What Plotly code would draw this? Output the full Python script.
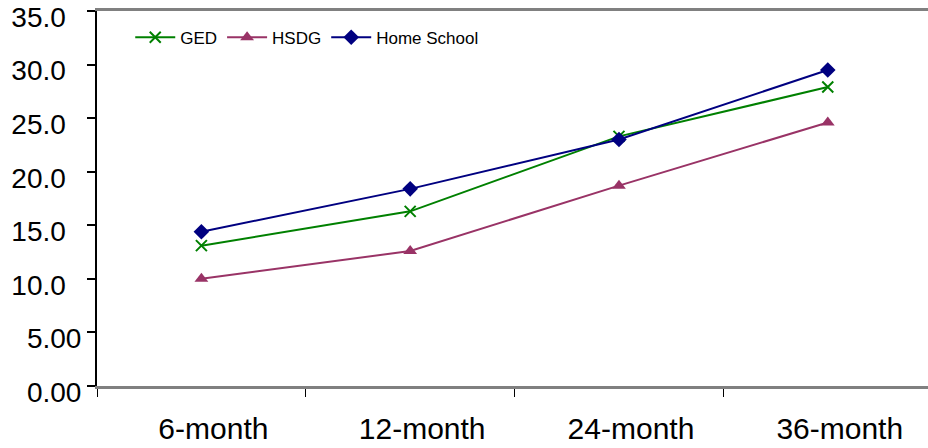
import plotly.graph_objects as go

categories = ["6-month", "12-month", "24-month", "36-month"]
ged = [13.1, 16.3, 23.3, 27.9]
hsdg = [10.0, 12.6, 18.7, 24.6]
home_school = [14.4, 18.4, 23.0, 29.5]

y_tickvals = [0, 5, 10, 15, 20, 25, 30, 35]
y_ticktext = ["0.00", "5.00", "10.0\u00a0\u00a0", "15.0\u00a0\u00a0", "20.0\u00a0\u00a0",
              "25.0\u00a0\u00a0", "30.0\u00a0\u00a0", "35.0\u00a0\u00a0"]

FONT = "Liberation Sans, Arial, sans-serif"

fig = go.Figure()
fig.add_trace(go.Scatter(
    x=categories, y=ged, name="GED", mode="lines+markers",
    line=dict(color="#008000", width=2),
    marker=dict(symbol="x-thin", size=11, line=dict(color="#008000", width=2), color="#008000"),
))
fig.add_trace(go.Scatter(
    x=categories, y=hsdg, name="HSDG", mode="lines+markers",
    line=dict(color="#993366", width=2),
    marker=dict(symbol="triangle-up", size=12, color="#993366"),
))
fig.add_trace(go.Scatter(
    x=categories, y=home_school, name="Home School", mode="lines+markers",
    line=dict(color="#000080", width=2),
    marker=dict(symbol="diamond", size=12, color="#000080"),
))

fig.update_layout(
    width=928, height=448,
    margin=dict(l=97, r=0, t=11, b=62),
    paper_bgcolor="white", plot_bgcolor="white",
    font=dict(family=FONT, color="black"),
    showlegend=True,
    legend=dict(
        orientation="h", x=0.04, y=0.977, xanchor="left", yanchor="top",
        font=dict(size=17, family=FONT, color="black"),
        bgcolor="rgba(0,0,0,0)", itemwidth=40, tracegroupgap=0,
    ),
)

fig.update_xaxes(
    type="category", range=[-0.5, 3.48], automargin=False,
    tickson="boundaries", ticks="outside", ticklen=8, tickwidth=1, tickcolor="black",
    showline=True, linecolor="#808080", linewidth=3, mirror=True,
    showgrid=False, zeroline=False,
    tickfont=dict(size=30, family=FONT, color="black"),
    ticklabelstandoff=14, ticklabelshift=12, ticklabeloverflow="allow",
)
fig.update_yaxes(
    range=[0, 35], tickvals=y_tickvals, ticktext=y_ticktext, automargin=False,
    ticks="outside", ticklen=8, tickwidth=2, tickcolor="black",
    showline=True, linecolor="black", linewidth=2, mirror=False,
    showgrid=False, zeroline=False,
    tickfont=dict(size=28, family=FONT, color="black"),
    ticklabelshift=6, ticklabeloverflow="allow",
)

fig.write_html(
    "out.html",
    config={"displayModeBar": False},
    post_script="document.body.style.margin='0';document.body.style.overflow='hidden';",
)
